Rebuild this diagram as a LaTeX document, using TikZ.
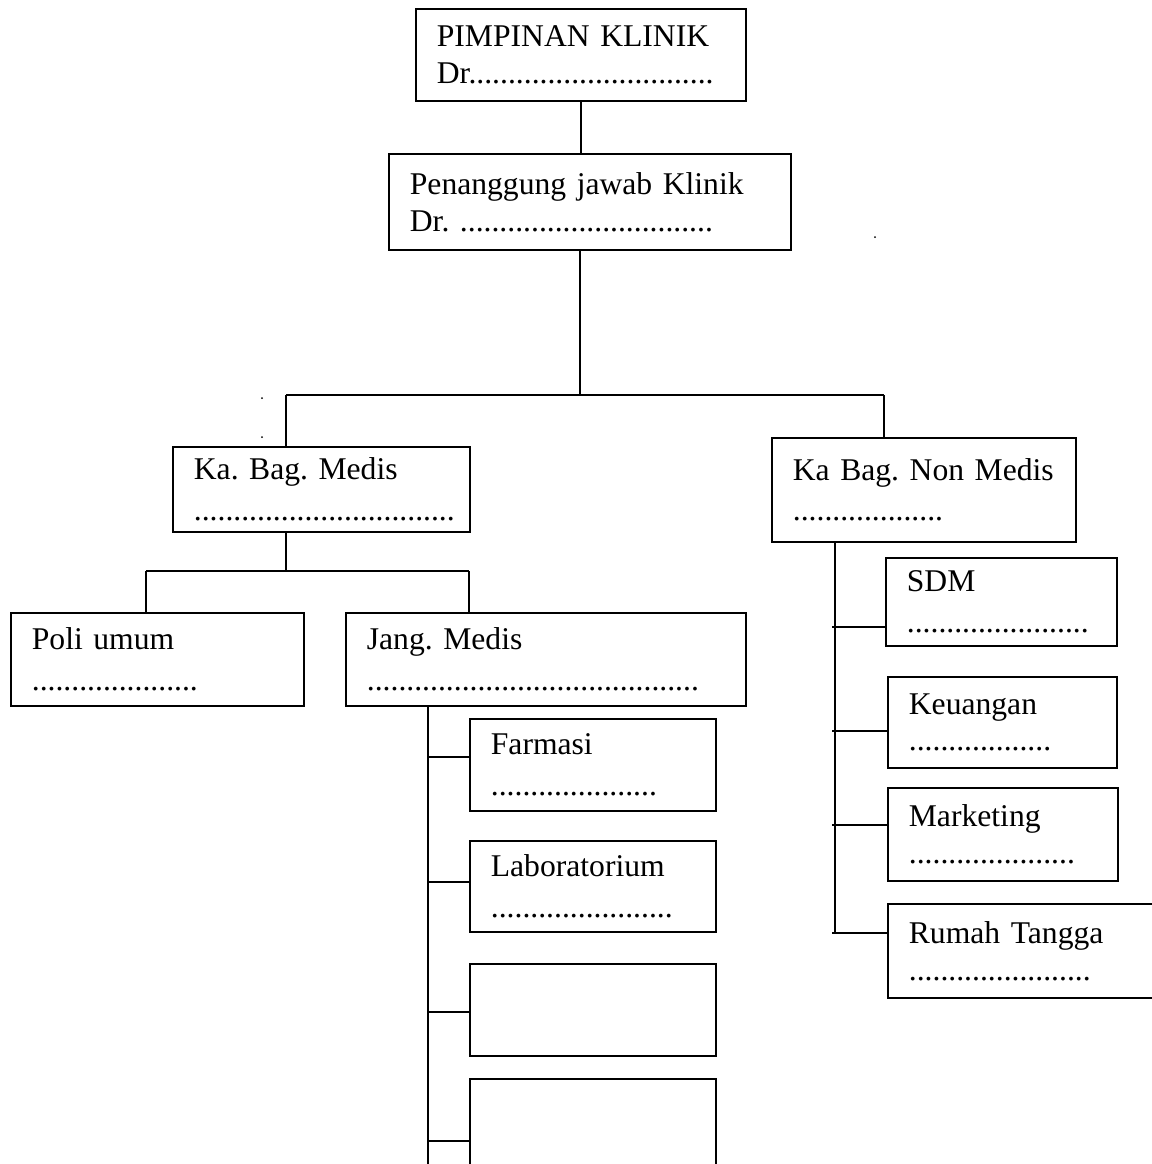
\documentclass[tikz,border=0pt]{standalone}
\usepackage{fontspec}
\setmainfont{Liberation Serif}
\usepackage{tikz}
\frenchspacing

\begin{document}
\begin{tikzpicture}[x=0.02cm,y=-0.02cm,
    kotak/.style 2 args={draw, line width=1pt, anchor=north west, inner xsep=0.42cm, inner ysep=0pt,
        align=left, text width=#1, minimum height=#2, font=\fontsize{18}{21}\selectfont},
    garis/.style={line width=1pt}]
    \useasboundingbox (0,0) rectangle (1152,1164);
    \clip (0,0) rectangle (1152,1164);

    % Pimpinan
    \node[kotak={5.76cm}{1.84cm}] (pimpinan) at (415,8) {PIMPINAN KLINIK\\Dr...............................};
    \node[kotak={7.20cm}{1.92cm}] (pj) at (388,153) {Penanggung jawab Klinik\\Dr. ................................};

    % Bagian
    \node[kotak={5.10cm}{1.70cm}] (medis) at (172,446) {Ka. Bag. Medis\\[2pt].................................};
    \node[kotak={5.24cm}{2.08cm}] (nonmedis) at (771,437) {Ka Bag. Non Medis\\[2pt]...................};

    % Bawah medis
    \node[kotak={5.02cm}{1.86cm}] (poli) at (10,612) {Poli umum\\[2pt].....................};
    \node[kotak={7.16cm}{1.86cm}] (jang) at (345,612) {Jang. Medis\\[2pt]..........................................};
    \node[kotak={4.08cm}{1.84cm}] (farmasi) at (469,718) {Farmasi\\[2pt].....................};
    \node[kotak={4.08cm}{1.82cm}] (lab) at (469,840) {Laboratorium\\[2pt].......................};
    \node[kotak={4.08cm}{1.84cm}] (kosong1) at (469,963) {};
    \node[kotak={4.08cm}{2.52cm}] (kosong2) at (469,1078) {};

    % Bawah non medis
    \node[kotak={3.78cm}{1.76cm}] (sdm) at (885,557) {SDM\\[2pt].......................};
    \node[kotak={3.74cm}{1.82cm}] (keu) at (887,676) {Keuangan\\..................};
    \node[kotak={3.76cm}{1.86cm}] (mkt) at (887,787) {Marketing\\..................... };
    \node[kotak={5.16cm}{1.88cm}] (rt) at (887,903) {Rumah Tangga\\.......................};

    % Garis atas
    \coordinate (bagi) at (580,395);
    \coordinate (kiri) at (286,395);
    \coordinate (kanan) at (884,395);
    \draw[garis] (pimpinan.south) -- (pimpinan.south |- pj.north);
    \draw[garis] (pj.south -| bagi) -- (bagi);
    \draw[garis] (kiri) -- (kanan);
    \draw[garis] (kiri) -- (kiri |- medis.north);
    \draw[garis] (kanan) -- (kanan |- nonmedis.north);

    % Garis medis
    \coordinate (m0) at (146,571);
    \coordinate (m1) at (286,571);
    \coordinate (m2) at (469,571);
    \draw[garis] (medis.south -| m1) -- (m1);
    \draw[garis] (m0) -- (m2);
    \draw[garis] (m0) -- (m0 |- poli.north);
    \draw[garis] (m2) -- (m2 |- jang.north);

    % Garis penunjang medis
    \coordinate (jt) at (428,1164);
    \draw[garis] (jang.south -| jt) -- (jt);
    \foreach \n/\y in {farmasi/757, lab/882, kosong1/1012, kosong2/1141}
        \draw[garis] (428,\y) coordinate (c\n) -- (c\n -| \n.west);

    % Garis non medis
    \coordinate (nt) at (835,933);
    \draw[garis] (nonmedis.south -| nt) -- (nt);
    \foreach \n/\y in {sdm/627, keu/731, mkt/825, rt/933}
        \draw[garis] (832,\y) coordinate (c\n) -- (c\n -| \n.west);

    % Titik kecil
    \fill (875,237) circle (1);
    \fill (262,398) circle (1);
    \fill (262,437) circle (1);
\end{tikzpicture}
\end{document}
